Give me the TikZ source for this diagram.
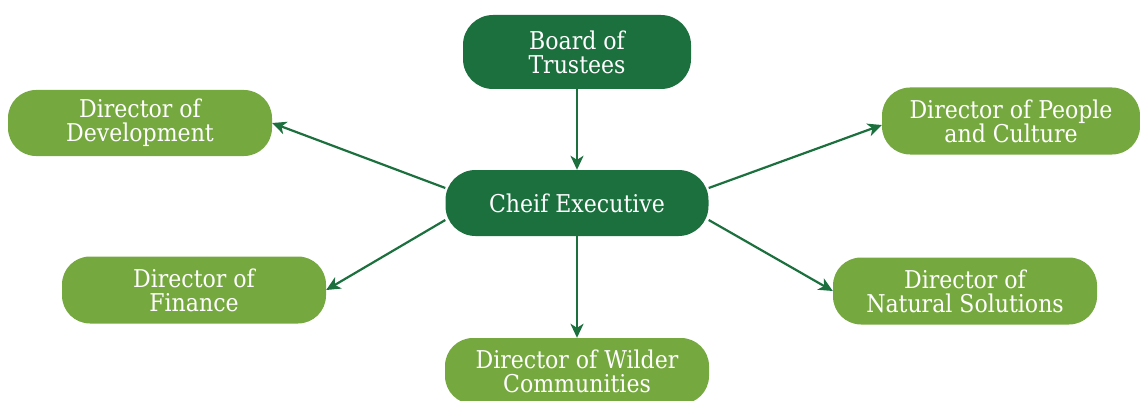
\documentclass[tikz,border=0pt]{standalone}
\usepackage{fontspec}
\setmainfont{DejaVu Serif Condensed}
\usetikzlibrary{shapes.geometric, arrows.meta}
\definecolor{darkgreen}{RGB}{27, 112, 62}
\definecolor{lightgreen}{RGB}{118, 168, 64}
\tikzstyle{head} = [rectangle, rounded corners=30pt,
                    minimum width=228pt, minimum height=74pt,
                    align=center, fill=darkgreen, text=white,
                    inner sep=0pt, font=\fontsize{24.5}{24}\selectfont]
\tikzstyle{director} = [rectangle, rounded corners=28pt,
                        minimum width=264pt, minimum height=67pt,
                        align=center, fill=lightgreen, text=white,
                        inner sep=0pt, font=\fontsize{24.5}{24}\selectfont]
\tikzstyle{arrow} = [line width=2.2pt, draw=darkgreen, -{Stealth[length=14pt, width=13pt, inset=4pt]}]

\begin{document}
\begin{tikzpicture}[x=1pt, y=-1pt]

        \clip (0,0) rectangle (1140,401);

        %Top of the chart
        \node (Board) [head] at (577,52) {Board of\\Trustees};
        \node (Chief) [head, minimum width=263pt, minimum height=66pt] at (577,203) {Cheif Executive};

        %Directors on the left
        \node (Development) [director, minimum height=66pt] at (140,123) {Director of\\Development};
        \node (Finance) [director] at (194,290) {Director of\\Finance};

        %Directors on the right
        \node (People) [director, minimum width=258pt] at (1011,121) {Director of People\\and Culture};
        \node (Natural) [director] at (965,291) {Director of\\Natural Solutions};

        %Director below
        \node (Wilder) [director, minimum height=66pt] at (577,371) {Director of Wilder\\Communities};

        %Board to chief
        \draw [arrow] (Board) -- (Chief);

        %Chief to directors
        \draw [arrow] ([yshift=15pt]Chief.west) -- (Development.east);
        \draw [arrow] ([yshift=-17pt]Chief.west) -- (Finance.east);
        \draw [arrow] ([yshift=15pt]Chief.east) -- ([yshift=-4pt]People.west);
        \draw [arrow] ([yshift=-17pt]Chief.east) -- (Natural.west);
        \draw [arrow] (Chief) -- (Wilder);

    \end{tikzpicture}
\end{document}
